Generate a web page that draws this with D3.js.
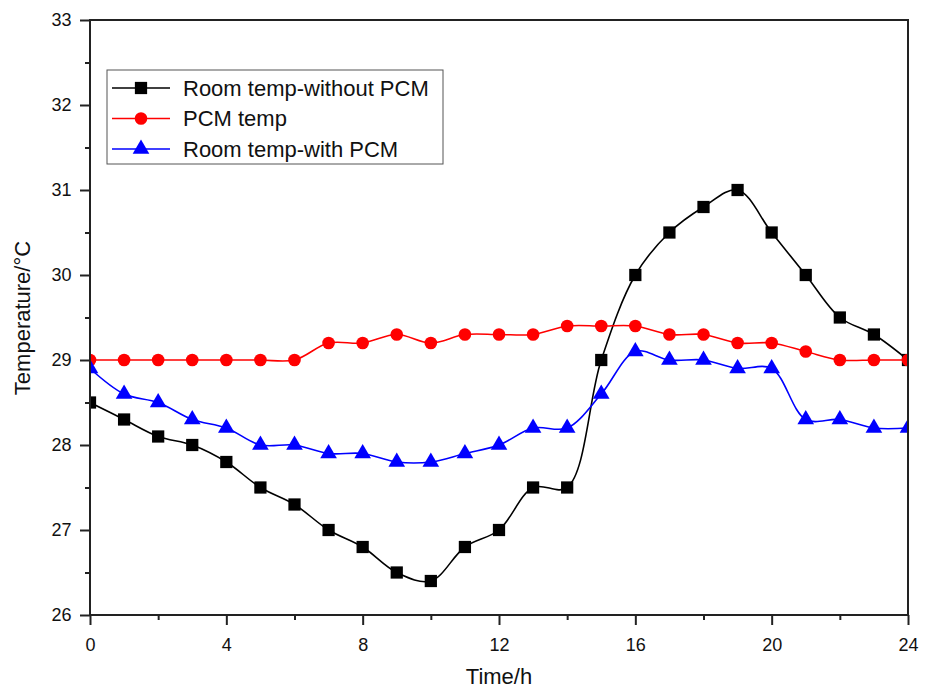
<!DOCTYPE html>
<html>
<head>
<meta charset="utf-8">
<script src="https://cdn.jsdelivr.net/npm/d3@7"></script>
<style>
  body{margin:0;background:#fff;}
  text{font-family:"Liberation Sans",Arial,sans-serif;}
</style>
</head>
<body>
<svg width="934" height="690"></svg>
<script>
var hours=d3.range(0,25)
var roomNoPcm=[28.5,28.3,28.1,28.0,27.8,27.5,27.3,27.0,26.8,26.5,26.4,26.8,27.0,27.5,27.5,29.0,30.0,30.5,30.8,31.0,30.5,30.0,29.5,29.3,29.0]
var pcmTemp=[29.0,29.0,29.0,29.0,29.0,29.0,29.0,29.2,29.2,29.3,29.2,29.3,29.3,29.3,29.4,29.4,29.4,29.3,29.3,29.2,29.2,29.1,29.0,29.0,29.0]
var roomPcm=[28.9,28.6,28.5,28.3,28.2,28.0,28.0,27.9,27.9,27.8,27.8,27.9,28.0,28.2,28.2,28.6,29.1,29.0,29.0,28.9,28.9,28.3,28.3,28.2,28.2]
var xTicks=[0,4,8,12,16,20,24]
var yTicks=[26,27,28,29,30,31,32,33]
var seriesNames=["Room temp-without PCM","PCM temp","Room temp-with PCM"]

var margins={top:20,bottom:75,left:90,right:26}
var svg=d3.select("svg")
var boxWidth=934-margins.left-margins.right
var boxHeight=690-margins.top-margins.bottom

var xScale=d3.scaleLinear().domain([0,24]).range([margins.left,margins.left+boxWidth])
var yScale=d3.scaleLinear().domain([26,33]).range([margins.top+boxHeight,margins.top])

var series=[
  {name:seriesNames[0],values:roomNoPcm,color:"#000000",shape:d3.symbolSquare,size:150},
  {name:seriesNames[1],values:pcmTemp,color:"#ff0000",shape:d3.symbolCircle,size:125},
  {name:seriesNames[2],values:roomPcm,color:"#0000ff",shape:d3.symbolTriangle,size:120}
]

svg.append("clipPath").attr("id","plotClip")
  .append("rect")
  .attr("x",margins.left).attr("y",margins.top)
  .attr("width",boxWidth).attr("height",boxHeight)

var line=d3.line()
  .x(function(d,i){return xScale(hours[i])})
  .y(function(d){return yScale(d)})
  .curve(d3.curveCatmullRom.alpha(0.5))

var plot=svg.append("g").attr("clip-path","url(#plotClip)")
series.forEach(function(s){
  plot.append("path")
    .attr("d",line(s.values))
    .attr("fill","none")
    .attr("stroke",s.color)
    .attr("stroke-width",1.6)
  plot.selectAll(null)
    .data(s.values)
    .enter()
    .append("path")
    .attr("d",d3.symbol().type(s.shape).size(s.size))
    .attr("transform",function(d,i){return "translate("+xScale(hours[i])+","+yScale(d)+")"})
    .attr("fill",s.color)
})

// frame
svg.append("rect")
  .attr("x",margins.left).attr("y",margins.top)
  .attr("width",boxWidth).attr("height",boxHeight)
  .attr("fill","none").attr("stroke","#222").attr("stroke-width",2)

// x axis
var xAxis=svg.append("g").attr("transform","translate(0,"+(margins.top+boxHeight)+")")
xAxis.call(d3.axisBottom(xScale).tickValues(xTicks).tickSize(10).tickSizeOuter(0))
xAxis.append("g").call(d3.axisBottom(xScale).tickValues(d3.range(2,24,4)).tickSize(5).tickFormat(""))
xAxis.selectAll(".domain").remove()
xAxis.selectAll("line").attr("stroke","#222").attr("stroke-width",2)
xAxis.selectAll("text").attr("font-size",18).attr("fill","#111").attr("dy","1.25em")

// y axis
var yAxis=svg.append("g").attr("transform","translate("+margins.left+",0)")
yAxis.call(d3.axisLeft(yScale).tickValues(yTicks).tickSize(10).tickSizeOuter(0).tickFormat(d3.format("d")))
yAxis.append("g").call(d3.axisLeft(yScale).tickValues(d3.range(26.5,33,1)).tickSize(5).tickFormat(""))
yAxis.selectAll(".domain").remove()
yAxis.selectAll("line").attr("stroke","#222").attr("stroke-width",2)
yAxis.selectAll("text").attr("font-size",18).attr("fill","#111").attr("dx","-0.3em")

svg.append("text")
  .attr("x",xScale(12)).attr("y",684)
  .attr("text-anchor","middle").attr("font-size",22).attr("fill","#111")
  .text("Time/h")
svg.append("text")
  .attr("transform","translate(30,318) rotate(-90)")
  .attr("text-anchor","middle").attr("font-size",22).attr("fill","#111")
  .text("Temperature/°C")

// legend
var legend=svg.append("g").attr("transform","translate(107,70)")
legend.append("rect")
  .attr("width",336).attr("height",94)
  .attr("fill","#fff").attr("stroke","#555").attr("stroke-width",1)
var items=legend.selectAll("g.item")
  .data(series)
  .enter()
  .append("g")
  .attr("transform",function(d,i){return "translate(0,"+(18+i*30.5)+")"})
items.append("line")
  .attr("x1",5).attr("x2",63)
  .attr("stroke",function(d){return d.color}).attr("stroke-width",1.6)
items.append("path")
  .attr("d",function(d){return d3.symbol().type(d.shape).size(d.size)()})
  .attr("transform","translate(34,0)")
  .attr("fill",function(d){return d.color})
items.append("text")
  .attr("x",76).attr("dy","0.36em")
  .attr("font-size",22).attr("fill","#111")
  .text(function(d){return d.name})
</script>
</body>
</html>
